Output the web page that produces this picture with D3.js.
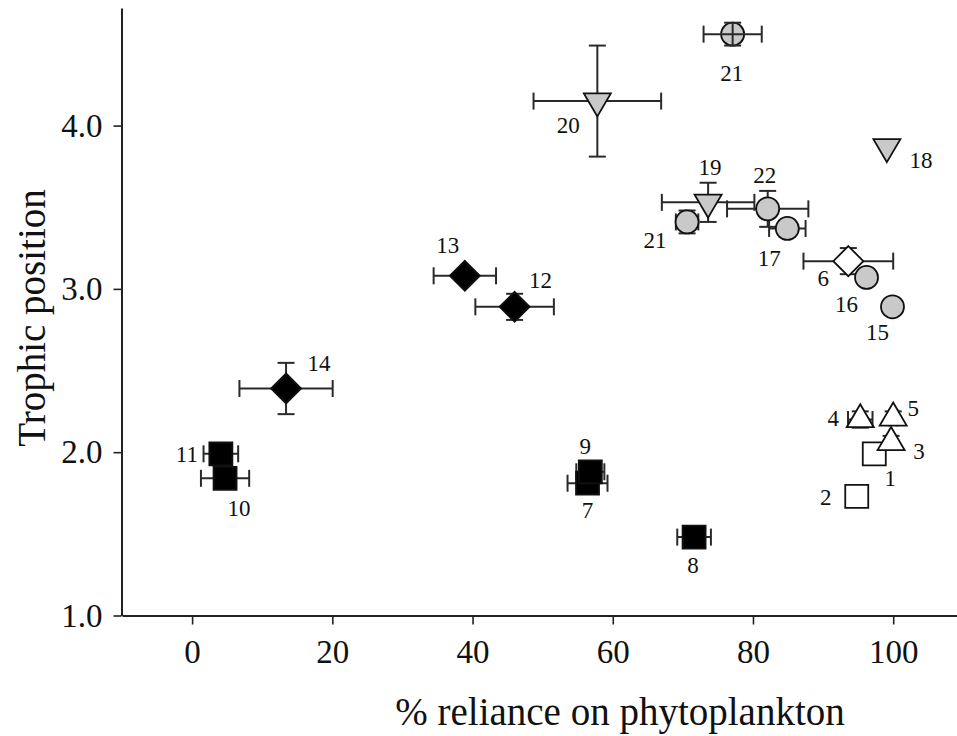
<!DOCTYPE html>
<html>
<head>
<meta charset="utf-8">
<script src="https://cdn.jsdelivr.net/npm/d3@7"></script>
<style>
  html, body { margin: 0; padding: 0; background: #fff; }
  svg { display: block; }
  svg text { font-family: "Liberation Serif", "Times New Roman", Times, "DejaVu Serif", serif !important; fill: #111; }
</style>
</head>
<body>
<svg id="chart" width="957" height="736"></svg>
<script>
// Taxon numbers, as printed beside each marker
const taxa = ["1","2","3","4","5","6","7","8","9","10","11","12","13","14","15","16","17","18","19","20","21","21","22"];
// % reliance on phytoplankton (mean and ± error)
const reliance    = [97.3, 94.8, 99.7, 95.3, 100.0, 93.6, 56.4, 71.6, 56.8, 4.7, 4.1, 46.0, 38.9, 13.4, 99.9, 96.2, 84.9, 99.1, 73.6, 57.8, 77.1, 70.6, 82.1];
const relianceErr = [0, 0, 0.6, 1.75, 0.6, 6.4, 2.85, 2.4, 2.0, 3.44, 2.47, 5.6, 4.45, 6.65, 0, 0.5, 2.6, 0, 6.6, 9.1, 4.15, 1.6, 5.8];
// Trophic position (mean and ± error)
const trophic     = [1.99, 1.73, 2.06, 2.20, 2.21, 3.17, 1.81, 1.48, 1.88, 1.84, 1.99, 2.89, 3.08, 2.39, 2.89, 3.07, 3.37, 3.87, 3.53, 4.15, 4.56, 3.41, 3.49];
const trophicErr  = [0, 0, 0.04, 0.05, 0.04, 0.08, 0.03, 0.03, 0.03, 0.03, 0.03, 0.08, 0.03, 0.157, 0, 0.03, 0.05, 0, 0.12, 0.34, 0.07, 0.07, 0.11];
// Marker shape and fill group of each taxon
const shapes = ["square","square","triUp","triUp","triUp","diamond","square","square","square","square","square",
                "diamond","diamond","diamond","circle","circle","circle","triDown","triDown","triDown","circle","circle","circle"];
const fills  = ["open","open","open","open","open","open","solid","solid","solid","solid","solid",
                "solid","solid","solid","grey","grey","grey","grey","grey","grey","grey","grey","grey"];
// Axis ticks
const xTicks = [0, 20, 40, 60, 80, 100];
const yTicks = [1, 2, 3, 4];

// ---- layout ----
const svg = d3.select("#chart");
const x = d3.scaleLinear().domain([-10, 109.1]).range([122, 957]);
const y = d3.scaleLinear().domain([1, 4.72]).range([615.5, 8]);

const serif = '"Liberation Serif", "Times New Roman", Times, "DejaVu Serif", serif';
const fillColour = { open: "#ffffff", solid: "#000000", grey: "#c9c9c9" };

// label offsets (px) from each marker centre
const labelOffset = [
  [16, 25], [-31, 1], [28, 9], [-27, -1], [20, -9], [-25, 17], [0, 27], [-1, 28], [-5, -25],
  [14, 30], [-34, 1], [26, -26], [-17, -30], [33, -25], [-15, 26], [-20, 27], [-18, 30],
  [34, 14], [2, -35], [-29, 24], [-1, 39], [-32, 19], [-3, -33]
];

function markerPath(shape) {
  const p = d3.path();
  if (shape === "square") {
    const s = 11.5;
    p.rect(-s, -s, 2 * s, 2 * s);
  } else if (shape === "circle") {
    p.arc(0, 0, 11.5, 0, 2 * Math.PI);
  } else if (shape === "diamond") {
    const r = 15;
    p.moveTo(0, -r); p.lineTo(r, 0); p.lineTo(0, r); p.lineTo(-r, 0);
  } else if (shape === "triUp") {
    const w = 13.5, h = 23;
    p.moveTo(0, -2 * h / 3); p.lineTo(w, h / 3); p.lineTo(-w, h / 3);
  } else if (shape === "triDown") {
    const w = 13.5, h = 23;
    p.moveTo(0, 2 * h / 3); p.lineTo(w, -h / 3); p.lineTo(-w, -h / 3);
  }
  p.closePath();
  return p.toString();
}

const points = taxa.map((t, i) => ({
  i, label: t, x: reliance[i], y: trophic[i], ex: relianceErr[i], ey: trophicErr[i],
  shape: shapes[i], fill: fills[i]
}));

// ---- axes ----
const xAxis = d3.axisBottom(x).tickValues(xTicks).tickSize(9).tickSizeOuter(0).tickPadding(15)
  .tickFormat(d3.format("d"));
const yAxis = d3.axisLeft(y).tickValues(yTicks).tickSize(8).tickSizeOuter(0).tickPadding(11)
  .tickFormat(d3.format(".1f"));

const gx = svg.append("g").attr("transform", "translate(0,615.5)").call(xAxis);
const gy = svg.append("g").attr("transform", "translate(121.5,0)").call(yAxis);
[gx, gy].forEach(g => {
  g.attr("font-family", serif);
  g.selectAll("path.domain").attr("stroke", "#222").attr("stroke-width", 2);
  g.selectAll(".tick line").attr("stroke", "#222").attr("stroke-width", 1.6);
  g.selectAll(".tick text").attr("font-size", 33).attr("fill", "#111");
});

svg.append("text")
  .attr("x", 620).attr("y", 725)
  .attr("text-anchor", "middle")
  .attr("font-family", serif)
  .attr("font-size", 39)
  .text("% reliance on phytoplankton");

svg.append("text")
  .attr("transform", "translate(45,318) rotate(-90)")
  .attr("text-anchor", "middle")
  .attr("font-family", serif)
  .attr("font-size", 39)
  .text("Trophic position");

// ---- error bars ----
const capHalf = 8.5;
function drawBars(g, d) {
  const cx = x(d.x), cy = y(d.y);
  const bar = g.append("g").attr("stroke", "#2a2a2a").attr("stroke-width", 2).attr("fill", "none");
  if (d.ex > 0) {
    const x0 = x(d.x - d.ex), x1 = x(d.x + d.ex);
    bar.append("line").attr("x1", x0).attr("x2", x1).attr("y1", cy).attr("y2", cy);
    bar.append("line").attr("x1", x0).attr("x2", x0).attr("y1", cy - capHalf).attr("y2", cy + capHalf);
    bar.append("line").attr("x1", x1).attr("x2", x1).attr("y1", cy - capHalf).attr("y2", cy + capHalf);
  }
  if (d.ey > 0) {
    const y0 = y(d.y - d.ey), y1 = y(d.y + d.ey);
    bar.append("line").attr("x1", cx).attr("x2", cx).attr("y1", y0).attr("y2", y1);
    bar.append("line").attr("x1", cx - capHalf).attr("x2", cx + capHalf).attr("y1", y0).attr("y2", y0);
    bar.append("line").attr("x1", cx - capHalf).attr("x2", cx + capHalf).attr("y1", y1).attr("y2", y1);
  }
}

// bars drawn over the marker for the uppermost taxon 21
const barsOnTop = new Set([20]);

const barLayer = svg.append("g");
const markLayer = svg.append("g");
const topBarLayer = svg.append("g");

points.forEach(d => drawBars(barsOnTop.has(d.i) ? topBarLayer : barLayer, d));

markLayer.selectAll("path")
  .data(points)
  .join("path")
  .attr("transform", d => `translate(${x(d.x)},${y(d.y)})`)
  .attr("d", d => markerPath(d.shape))
  .attr("fill", d => fillColour[d.fill])
  .attr("stroke", "#111")
  .attr("stroke-width", 1.8);

// ---- taxon labels ----
svg.append("g").attr("font-family", serif).selectAll("text")
  .data(points)
  .join("text")
  .attr("x", d => x(d.x) + labelOffset[d.i][0])
  .attr("y", d => y(d.y) + labelOffset[d.i][1])
  .attr("text-anchor", "middle")
  .attr("dominant-baseline", "central")
  .attr("font-size", 23)
  .text(d => d.label);
</script>
</body>
</html>
